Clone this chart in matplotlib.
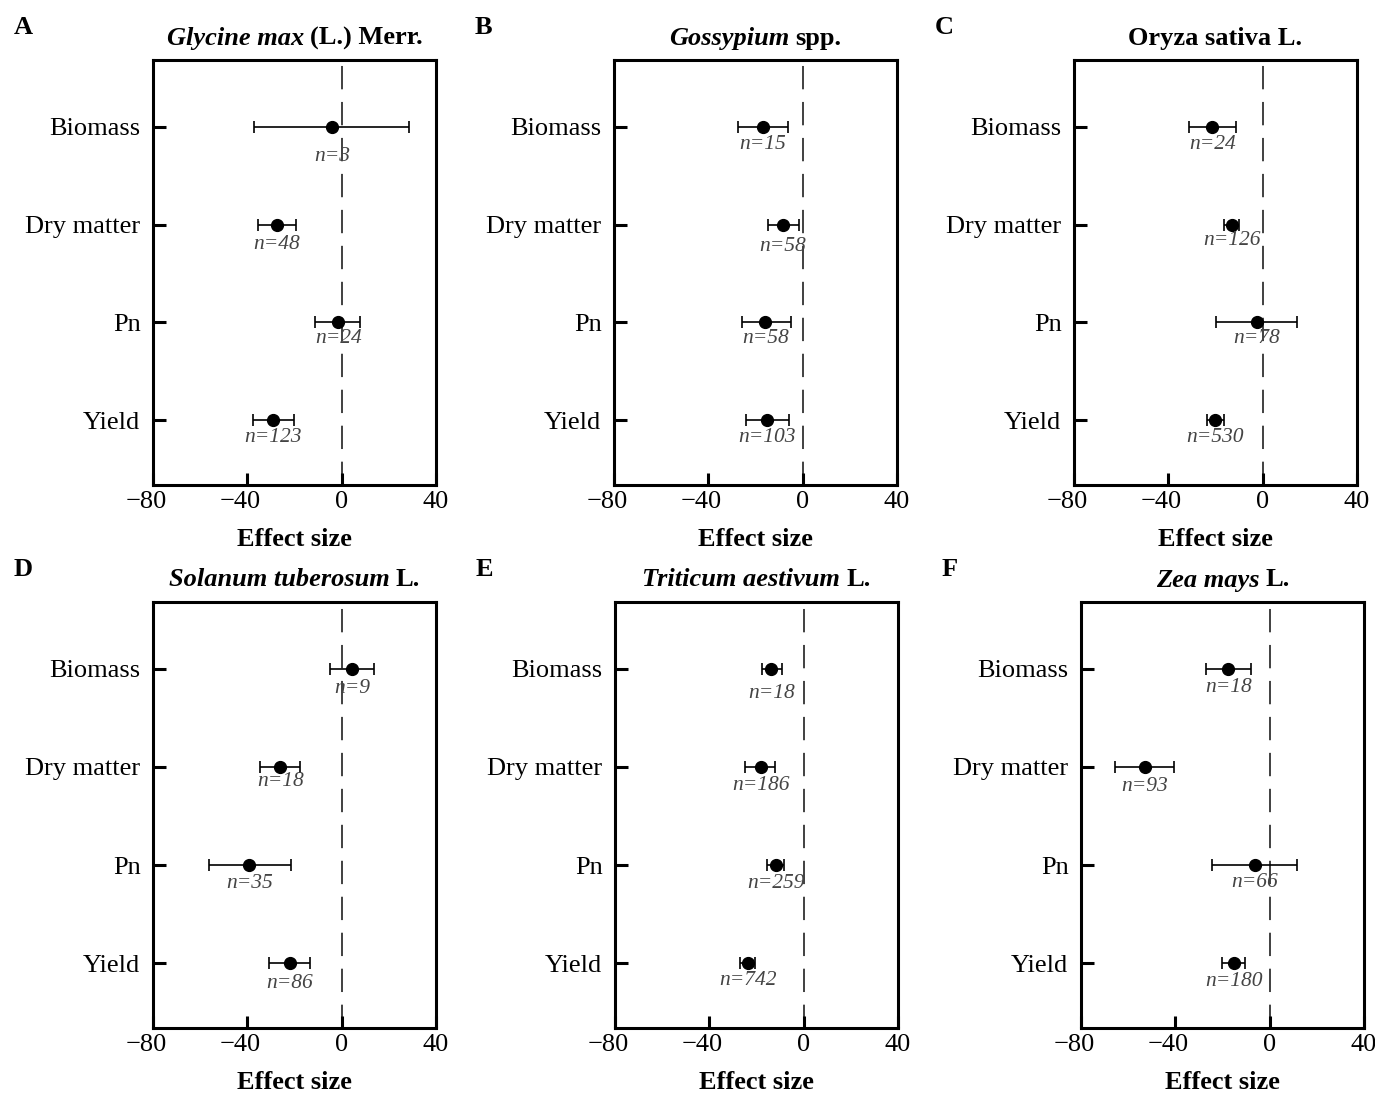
import matplotlib
matplotlib.use("Agg")
from matplotlib import pyplot as plt
from matplotlib.transforms import ScaledTranslation

plt.rcParams['font.family'] = ['Liberation Serif', 'DejaVu Serif']
plt.rcParams['axes.unicode_minus'] = True

traits = ["Biomass", "Dry matter", "Pn", "Yield"]
letters = ["A", "B", "C", "D", "E", "F"]
title_it = ["Glycine max", "Gossypium", "", "Solanum tuberosum", "Triticum aestivum", "Zea mays"]
title_rm = ["(L.) Merr.", "spp.", "Oryza sativa L.", "L.", "L.", "L."]

# effect size (mean) and CI, order: Biomass, Dry matter, Pn, Yield
mean_A = [-4.0, -27.4, -1.4, -29.2]
lo_A = [-37.0, -35.5, -11.1, -37.4]
hi_A = [28.6, -19.3, 7.8, -20.4]
n_A = [3, 48, 24, 123]

mean_B = [-17.0, -8.3, -15.8, -15.1]
lo_B = [-27.3, -14.6, -25.9, -24.1]
hi_B = [-6.4, -1.6, -5.0, -5.7]
n_B = [15, 58, 58, 103]

mean_C = [-21.3, -13.1, -2.6, -20.1]
lo_C = [-31.3, -16.3, -19.6, -23.5]
hi_C = [-11.1, -10.0, 14.6, -16.5]
n_C = [24, 126, 78, 530]

mean_D = [4.3, -26.1, -39.1, -22.1]
lo_D = [-4.9, -34.8, -56.4, -30.7]
hi_D = [13.5, -17.6, -21.6, -13.4]
n_D = [9, 18, 35, 86]

mean_E = [-13.8, -18.2, -11.8, -23.8]
lo_E = [-17.7, -24.8, -15.6, -27.2]
hi_E = [-9.3, -12.1, -8.3, -20.6]
n_E = [18, 186, 259, 742]

mean_F = [-17.6, -52.9, -6.3, -15.2]
lo_F = [-27.1, -65.6, -24.4, -20.4]
hi_F = [-8.1, -40.5, 11.6, -10.5]
n_F = [18, 93, 66, 180]

means = [mean_A, mean_B, mean_C, mean_D, mean_E, mean_F]
lows = [lo_A, lo_B, lo_C, lo_D, lo_E, lo_F]
highs = [hi_A, hi_B, hi_C, hi_D, hi_E, hi_F]
ns = [n_A, n_B, n_C, n_D, n_E, n_F]

# how far (px) each n= label sits below its point
n_drop = [[30, 20, 16, 17], [18, 22, 16, 17], [18, 16, 16, 17],
          [20, 15, 18, 20], [25, 19, 18, 17], [19, 20, 17, 18]]

W, H = 1375, 1095
fig = plt.figure(figsize=(W / 100, H / 100), dpi=100)

# axes boxes in pixels: left, top, right, bottom
boxes = [(153, 60, 436, 485), (614, 60, 897, 485), (1074, 60, 1357, 485),
         (153, 602, 436, 1028), (615, 602, 898, 1028), (1081, 602, 1364, 1028)]

ypos = [3, 2, 1, 0]
for i in range(6):
    l, t, r, b = boxes[i]
    ax = fig.add_axes([l / W, 1 - b / H, (r - l) / W, (b - t) / H])
    m = means[i]
    xerr = [[m[k] - lows[i][k] for k in range(4)], [highs[i][k] - m[k] for k in range(4)]]
    ax.axvline(0, color='#404040', lw=1.4, dashes=(12, 6.5), zorder=1)
    ax.errorbar(m, ypos, xerr=xerr, fmt='o', color='black', ms=8.5,
                elinewidth=1.2, capsize=4.5, capthick=1.2, zorder=3)
    ax.set_xlim(-80, 40)
    ax.set_ylim(-0.66, 3.68)
    unit = (b - t) / 4.34  # px per category step
    for k in range(4):
        ax.text(m[k], ypos[k] - n_drop[i][k] / unit, "n=" + str(ns[i][k]), ha='center',
                va='center', fontsize=15.5, style='italic', color='#444444', zorder=4)
    ax.set_xticks([-80, -40, 0, 40])
    ax.set_yticks(ypos)
    ax.set_yticklabels(traits)
    ax.tick_params(axis='both', direction='in', length=9, width=2.2, labelsize=19)
    ax.tick_params(axis='y', pad=9)
    ax.tick_params(axis='x', pad=4)
    for lab, v in zip(ax.get_xticklabels(), [-80, -40, 0, 40]):
        if v < 0:
            lab.set_transform(lab.get_transform() + ScaledTranslation(-5 / 72, 0, fig.dpi_scale_trans))
    for s in ax.spines.values():
        s.set_linewidth(2.2)
    ax.set_xlabel("Effect size", fontsize=19, fontweight='bold', labelpad=11)
    fig.text((l - 139) / W, 1 - (t - 33) / H, letters[i], fontsize=19, fontweight='bold',
             ha='left', va='center')

# titles with italic species names
renderer = fig.canvas.get_renderer()
for i in range(6):
    l, t, r, b = boxes[i]
    cx = (l + r) / 2
    ty = 1 - (t - 22) / H
    parts = []
    if title_it[i]:
        parts.append(fig.text(0, ty, title_it[i], fontsize=19, fontweight='bold',
                              style='italic', ha='left', va='center'))
    parts.append(fig.text(0, ty, title_rm[i], fontsize=19, fontweight='bold',
                          ha='left', va='center'))
    gap = 6
    widths = [p.get_window_extent(renderer).width for p in parts]
    total = sum(widths) + gap * (len(parts) - 1)
    x = cx - total / 2
    for p, w in zip(parts, widths):
        p.set_x(x / W)
        x += w + gap

fig.savefig("out.png", dpi=100)
